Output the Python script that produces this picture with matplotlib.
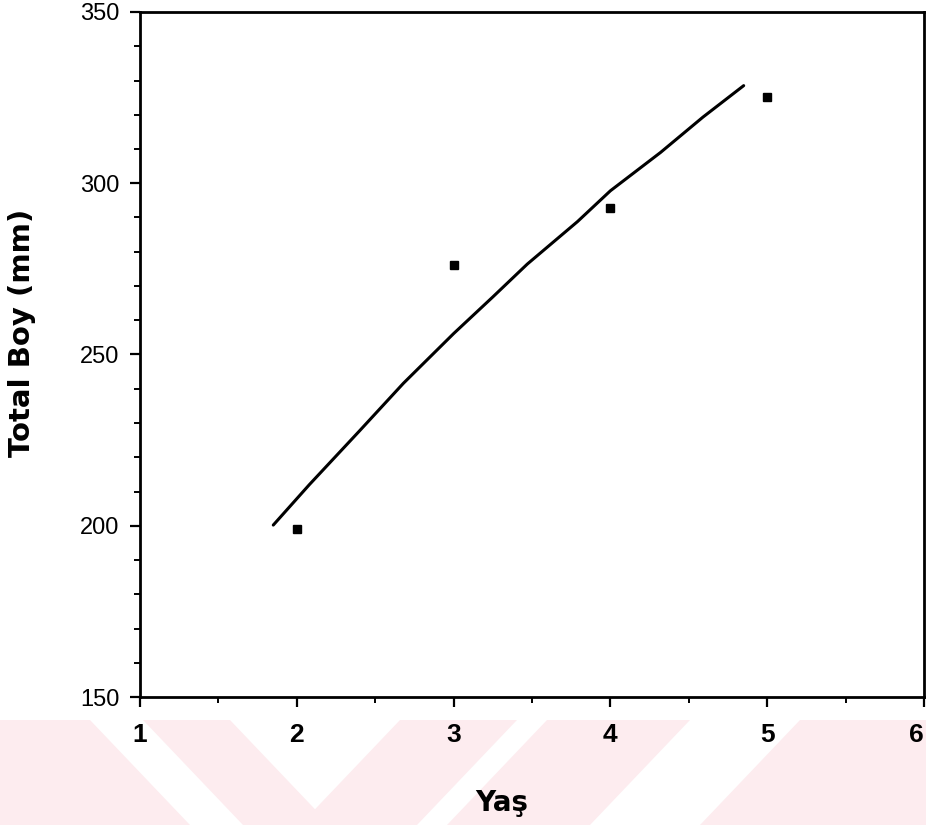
import matplotlib
matplotlib.use("Agg")
import matplotlib.pyplot as plt
from matplotlib.patches import Polygon
from matplotlib.ticker import MultipleLocator

# observed mean total length by age
ages = [2, 3, 4, 5]
mean_length = [199.0, 276.1, 292.7, 325.3]

# fitted growth curve
fit_age = [1.85, 2.08, 2.40, 2.68, 3.00, 3.25, 3.47, 3.79, 4.00, 4.32, 4.59, 4.85]
fit_length = [200.2, 212.0, 227.7, 241.6, 256.1, 266.8, 276.4, 288.8, 297.8, 309.0, 319.3, 328.5]

x_ticks = [1, 2, 3, 4, 5, 6]
y_ticks = [150, 200, 250, 300, 350]

W, H = 926, 825
fig = plt.figure(figsize=(W / 100, H / 100), dpi=100)

def px(x, y):
    return (x / W, 1 - y / H)

# faint pink watermark bands along the bottom edge
bands = [(-120, 90, -20, 190), (143, 230, 243, 330),
         (400, 517, 300, 417), (547, 690, 447, 590), (800, 1050, 700, 950)]
for t0, t1, b0, b1 in bands:
    fig.patches.append(Polygon([px(t0, 720), px(t1, 720), px(b1, 825), px(b0, 825)],
                               closed=True, transform=fig.transFigure,
                               facecolor='#fdecef', edgecolor='none', zorder=-1))

ax = fig.add_axes([140 / W, 1 - 697 / H, 784 / W, 685 / H])
ax.plot(fit_age, fit_length, color='black', lw=2.2, solid_capstyle='round')
ax.plot(ages, mean_length, 's', color='black', ms=6)

ax.set_xlim(1, 6)
ax.set_ylim(150, 350)
ax.set_xticks(x_ticks)
ax.set_yticks(y_ticks)
ax.xaxis.set_minor_locator(MultipleLocator(0.5))
ax.yaxis.set_minor_locator(MultipleLocator(10))

for s in ax.spines.values():
    s.set_linewidth(2.0)

ax.tick_params(axis='both', which='major', direction='out', length=7, width=1.6)
ax.tick_params(axis='both', which='minor', direction='out', length=4, width=1.4)
ax.tick_params(axis='y', which='major', pad=8)
ax.tick_params(axis='x', which='major', pad=12)

for lab in ax.get_yticklabels():
    lab.set_fontfamily('Liberation Sans')
    lab.set_fontsize(17)
xlabels = ax.get_xticklabels()
for lab in xlabels:
    lab.set_fontfamily('Liberation Sans')
    lab.set_fontweight('bold')
    lab.set_fontsize(19)
# last label sits at the figure edge
xlabels[-1].set_horizontalalignment('right')
xlabels[-1].set_x(6)

fig.text(22 / W, 1 - 333 / H, 'Total Boy (mm)', rotation=90, ha='center', va='center',
         fontsize=21, fontweight='bold')
fig.text(502 / W, 1 - 803 / H, 'Yaş', ha='center', va='center',
         fontsize=20, fontweight='bold')

fig.savefig('out.png', dpi=100)
